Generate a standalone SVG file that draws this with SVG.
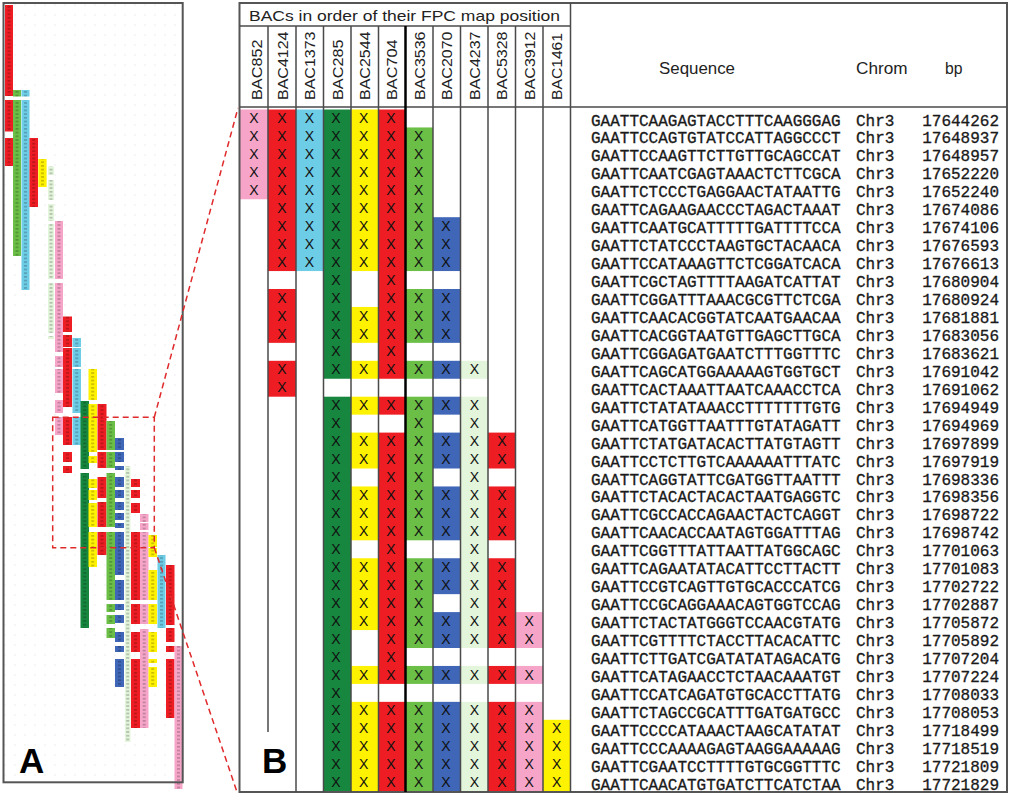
<svg xmlns="http://www.w3.org/2000/svg" width="1011" height="795" viewBox="0 0 1011 795">
<defs>
<pattern id="dots" width="10" height="10" patternUnits="userSpaceOnUse">
<rect x="4.5" y="4.5" width="1" height="1" fill="#d9d9d9"/>
</pattern>
<pattern id="tk" x="0" y="5" width="190" height="3.7" patternUnits="userSpaceOnUse">
<g fill="#000" fill-opacity="0.3">
<rect x="7.5" y="1.2" width="3" height="1.2"/><rect x="15.5" y="1.2" width="3" height="1.2"/><rect x="24" y="1.2" width="3" height="1.2"/><rect x="32.2" y="1.2" width="3" height="1.2"/><rect x="41" y="1.2" width="3" height="1.2"/><rect x="49.5" y="1.2" width="3" height="1.2"/><rect x="57.5" y="1.2" width="3" height="1.2"/><rect x="66" y="1.2" width="3" height="1.2"/><rect x="75.2" y="1.2" width="3" height="1.2"/><rect x="83.2" y="1.2" width="3" height="1.2"/><rect x="91.2" y="1.2" width="3" height="1.2"/><rect x="100.5" y="1.2" width="3" height="1.2"/><rect x="109.2" y="1.2" width="3" height="1.2"/><rect x="118" y="1.2" width="3" height="1.2"/><rect x="126.2" y="1.2" width="3" height="1.2"/><rect x="134" y="1.2" width="3" height="1.2"/><rect x="142.7" y="1.2" width="3" height="1.2"/><rect x="151.2" y="1.2" width="3" height="1.2"/><rect x="160" y="1.2" width="3" height="1.2"/><rect x="168.7" y="1.2" width="3" height="1.2"/><rect x="177" y="1.2" width="3" height="1.2"/>
</g>
</pattern>
<filter id="wh" x="0" y="0" width="1" height="1" filterUnits="objectBoundingBox"><feColorMatrix type="matrix" values="0 0 0 0 1  0 0 0 0 1  0 0 0 0 1  0 0 0 1 0"/></filter>
<mask id="mA" maskUnits="userSpaceOnUse" x="0" y="0" width="200" height="795"><use href="#panelA-cells" filter="url(#wh)"/></mask>
</defs>
<style>
.pk{fill:#F6A5C8}.rd{fill:#EE1D23}.cy{fill:#6DCCE6}.dg{fill:#17873F}.ye{fill:#FFF200}.gr{fill:#6BBF47}.bl{fill:#3F66B7}.lg{fill:#E3F5DB}
.x{font-family:'Liberation Sans',Arial,sans-serif;font-size:14px;text-anchor:middle;fill:#111}
.s{font-family:'Liberation Mono','Courier New',monospace;font-size:16px;fill:#1a1a1a;stroke:#1a1a1a;stroke-width:0.3}
.n{text-anchor:end}
.lb{font-family:'Liberation Sans',Arial,sans-serif;font-size:15px;fill:#222}
.tt{font-family:'Liberation Sans',Arial,sans-serif;font-size:15px;fill:#222}
.hd{font-family:'Liberation Sans',Arial,sans-serif;font-size:16px;fill:#222}
.gl{stroke:#4a4a4a;stroke-width:1.5;fill:none}
.big{font-family:'Liberation Sans',Arial,sans-serif;font-size:35px;font-weight:bold;fill:#000}
.dash{stroke:#E0292B;stroke-width:1.5;stroke-dasharray:6 4;fill:none}
</style>
<rect width="1011" height="795" fill="#fff"/>

<!-- Panel A -->
<g id="panelA">
<rect x="3.5" y="3" width="179.2" height="779.3" fill="url(#dots)"/>
<g id="panelA-cells">
<g class="rd"><rect x="5" y="5" width="8" height="91"/><rect x="5" y="100" width="8" height="31.5"/><rect x="5" y="138" width="8" height="28"/></g>
<g class="gr"><rect x="13" y="90" width="8" height="6.5"/><rect x="13" y="100" width="8" height="156"/></g>
<g class="cy"><rect x="21.5" y="90" width="8" height="6.5"/><rect x="21.5" y="100" width="8" height="190"/></g>
<g class="rd"><rect x="29.5" y="138" width="8.5" height="69"/></g>
<g class="ye"><rect x="38.3" y="159" width="8.3" height="28"/></g>
<g class="lg"><rect x="48" y="166.5" width="6" height="8.5"/><rect x="48" y="180" width="6" height="20"/><rect x="48" y="204" width="6" height="17"/><rect x="48" y="224" width="6" height="55"/><rect x="48" y="283" width="6" height="50"/><rect x="48" y="336" width="6" height="3"/></g>
<g class="pk"><rect x="55" y="221" width="8" height="58"/><rect x="55" y="283" width="8" height="69"/><rect x="55" y="356" width="8" height="11"/><rect x="55" y="369" width="8" height="24"/><rect x="55" y="400" width="8" height="13"/><rect x="55" y="417" width="8" height="18"/></g>
<g class="rd"><rect x="63" y="316.5" width="9" height="15.5"/><rect x="63" y="335" width="9" height="12"/><rect x="63" y="348" width="9" height="59"/><rect x="63" y="417" width="9" height="28"/><rect x="63" y="452" width="9" height="10"/><rect x="63" y="466" width="9" height="7"/></g>
<g class="cy"><rect x="72.5" y="338" width="8.5" height="9"/><rect x="72.5" y="348" width="8.5" height="19"/><rect x="72.5" y="369" width="8.5" height="44"/><rect x="72.5" y="417" width="8.5" height="28"/></g>
<g class="dg"><rect x="80.5" y="401" width="8.5" height="68"/><rect x="80.5" y="473" width="8.5" height="155"/></g>
<g class="ye"><rect x="88.5" y="369" width="8.5" height="31"/><rect x="88.5" y="404" width="8.5" height="48"/><rect x="88.5" y="456" width="8.5" height="7"/><rect x="88.5" y="479" width="8.5" height="9"/><rect x="88.5" y="490" width="8.5" height="10"/><rect x="88.5" y="503" width="8.5" height="24"/><rect x="88.5" y="532" width="8.5" height="35"/></g>
<g class="rd"><rect x="97.5" y="404" width="9" height="46"/><rect x="97.5" y="452" width="9" height="16"/><rect x="97.5" y="477" width="9" height="21"/><rect x="97.5" y="502" width="9" height="25"/><rect x="97.5" y="532" width="9" height="23"/></g>
<g class="gr"><rect x="106.5" y="421" width="8.5" height="29"/><rect x="106.5" y="452" width="8.5" height="16"/><rect x="106.5" y="473" width="8.5" height="54"/><rect x="106.5" y="532" width="8.5" height="68"/><rect x="106.5" y="604" width="8.5" height="8"/><rect x="106.5" y="615" width="8.5" height="9"/><rect x="106.5" y="628" width="8.5" height="10"/></g>
<g class="bl"><rect x="115" y="438" width="9" height="12"/><rect x="115" y="452" width="9" height="10"/><rect x="115" y="466" width="9" height="4"/><rect x="115" y="477" width="9" height="10"/><rect x="115" y="490" width="9" height="8"/><rect x="115" y="502" width="9" height="8"/><rect x="115" y="513" width="9" height="7"/><rect x="115" y="523" width="9" height="5"/><rect x="115" y="532" width="9" height="43"/><rect x="115" y="580" width="9" height="20"/><rect x="115" y="604" width="9" height="6"/><rect x="115" y="615" width="9" height="8"/><rect x="115" y="632" width="9" height="10"/><rect x="115" y="646" width="9" height="6"/><rect x="115" y="659" width="9" height="28"/></g>
<g class="lg"><rect x="125" y="466" width="5.5" height="276"/></g>
<g class="rd"><rect x="131" y="479" width="9" height="8"/><rect x="131" y="490" width="9" height="8"/><rect x="131" y="503" width="9" height="10"/><rect x="131" y="532" width="9" height="68"/><rect x="131" y="604" width="9" height="20"/><rect x="131" y="632" width="9" height="20"/><rect x="131" y="659" width="9" height="69"/></g>
<g class="pk"><rect x="140" y="514" width="8.5" height="8"/><rect x="140" y="523" width="8.5" height="7"/><rect x="140" y="532" width="8.5" height="68"/><rect x="140" y="604" width="8.5" height="20"/><rect x="140" y="629" width="8.5" height="99"/></g>
<g class="ye"><rect x="148.5" y="535" width="8.5" height="12"/><rect x="148.5" y="548" width="8.5" height="9"/><rect x="148.5" y="570" width="8.5" height="30"/><rect x="148.5" y="604" width="8.5" height="20"/><rect x="148.5" y="632" width="8.5" height="20"/><rect x="148.5" y="659" width="8.5" height="4"/><rect x="148.5" y="667" width="8.5" height="20"/></g>
<g class="cy"><rect x="157.5" y="555" width="8" height="73"/></g>
<g class="rd"><rect x="166" y="565" width="8.5" height="60"/><rect x="166" y="628" width="8.5" height="14"/><rect x="166" y="646" width="8.5" height="6"/><rect x="166" y="659" width="8.5" height="59"/></g>
<g class="pk"><rect x="174.5" y="646" width="8" height="143"/></g>
</g>
<rect x="3" y="3" width="182" height="788" fill="url(#tk)" mask="url(#mA)"/>
<rect x="3.5" y="3" width="179.2" height="779.3" fill="none" stroke="#555" stroke-width="2"/>
<text class="big" x="19" y="773">A</text>
</g>

<!-- Panel B cells -->
<g id="cells">
<g class="pk"><rect x="240" y="109.5" width="28" height="89.75"/><rect x="515.5" y="612.1" width="27.5" height="35.9"/><rect x="515.5" y="665.95" width="27.5" height="17.95"/><rect x="515.5" y="701.85" width="27.5" height="89.75"/></g>
<g class="rd"><rect x="268" y="109.5" width="28" height="161.55"/><rect x="268" y="289" width="28" height="53.85"/><rect x="268" y="360.8" width="28" height="35.9"/>
<rect x="378.5" y="109.5" width="27" height="269.25"/><rect x="378.5" y="396.7" width="27" height="17.95"/><rect x="378.5" y="432.6" width="27" height="251.3"/><rect x="378.5" y="701.85" width="27" height="89.75"/>
<rect x="488" y="432.6" width="27.5" height="35.9"/><rect x="488" y="486.45" width="27.5" height="53.85"/><rect x="488" y="558.25" width="27.5" height="89.75"/><rect x="488" y="665.95" width="27.5" height="17.95"/><rect x="488" y="701.85" width="27.5" height="89.75"/></g>
<g class="cy"><rect x="296" y="109.5" width="27.5" height="161.55"/></g>
<g class="dg"><rect x="323.5" y="109.5" width="27.5" height="269.25"/><rect x="323.5" y="396.7" width="27.5" height="394.9"/></g>
<g class="ye"><rect x="351" y="109.5" width="27.5" height="161.55"/><rect x="351" y="306.95" width="27.5" height="35.9"/><rect x="351" y="360.8" width="27.5" height="17.95"/><rect x="351" y="396.7" width="27.5" height="17.95"/><rect x="351" y="432.6" width="27.5" height="35.9"/><rect x="351" y="486.45" width="27.5" height="53.85"/><rect x="351" y="558.25" width="27.5" height="71.8"/><rect x="351" y="665.95" width="27.5" height="17.95"/><rect x="351" y="701.85" width="27.5" height="89.75"/>
<rect x="543" y="719.8" width="27.5" height="71.8"/></g>
<g class="gr"><rect x="405.5" y="127.45" width="27.5" height="143.6"/><rect x="405.5" y="289" width="27.5" height="53.85"/><rect x="405.5" y="360.8" width="27.5" height="17.95"/><rect x="405.5" y="396.7" width="27.5" height="143.6"/><rect x="405.5" y="558.25" width="27.5" height="89.75"/><rect x="405.5" y="665.95" width="27.5" height="17.95"/><rect x="405.5" y="701.85" width="27.5" height="89.75"/></g>
<g class="bl"><rect x="433" y="217.2" width="27.5" height="53.85"/><rect x="433" y="289" width="27.5" height="53.85"/><rect x="433" y="360.8" width="27.5" height="17.95"/><rect x="433" y="396.7" width="27.5" height="17.95"/><rect x="433" y="432.6" width="27.5" height="35.9"/><rect x="433" y="486.45" width="27.5" height="53.85"/><rect x="433" y="558.25" width="27.5" height="35.9"/><rect x="433" y="612.1" width="27.5" height="35.9"/><rect x="433" y="665.95" width="27.5" height="17.95"/><rect x="433" y="701.85" width="27.5" height="89.75"/></g>
<g class="lg"><rect x="460.5" y="360.8" width="27.5" height="17.95"/><rect x="460.5" y="396.7" width="27.5" height="251.3"/><rect x="460.5" y="665.95" width="27.5" height="17.95"/><rect x="460.5" y="701.85" width="27.5" height="89.75"/></g>
</g>

<!-- grid lines -->
<g id="grid" class="gl">
<rect x="239.5" y="3" width="767.5" height="789" stroke-width="2" stroke="#555"/>
<line x1="239.5" y1="26" x2="570.5" y2="26"/>
<line x1="239.5" y1="107" x2="1007" y2="107"/>
<line x1="268" y1="26" x2="268" y2="732"/>
<line x1="296" y1="26" x2="296" y2="792"/>
<line x1="323.5" y1="26" x2="323.5" y2="792"/>
<line x1="351" y1="26" x2="351" y2="792"/>
<line x1="378.5" y1="26" x2="378.5" y2="792"/>
<line x1="405.5" y1="26" x2="405.5" y2="792" stroke="#000" stroke-width="2.5"/>
<line x1="433" y1="26" x2="433" y2="792"/>
<line x1="460.5" y1="26" x2="460.5" y2="792"/>
<line x1="488" y1="26" x2="488" y2="792"/>
<line x1="515.5" y1="26" x2="515.5" y2="792"/>
<line x1="543" y1="26" x2="543" y2="792"/>
<line x1="570.5" y1="3" x2="570.5" y2="792"/>
</g>

<!-- header -->
<g id="header">
<text class="tt" x="249" y="21" textLength="311" lengthAdjust="spacingAndGlyphs">BACs in order of their FPC map position</text>
<text class="lb" transform="translate(262,100) rotate(-90)" textLength="60.5" lengthAdjust="spacingAndGlyphs">BAC852</text>
<text class="lb" transform="translate(287.8,100) rotate(-90)" textLength="68.5" lengthAdjust="spacingAndGlyphs">BAC4124</text>
<text class="lb" transform="translate(315.2,100) rotate(-90)" textLength="68.5" lengthAdjust="spacingAndGlyphs">BAC1373</text>
<text class="lb" transform="translate(342.5,100) rotate(-90)" textLength="60.5" lengthAdjust="spacingAndGlyphs">BAC285</text>
<text class="lb" transform="translate(370.2,100) rotate(-90)" textLength="68.5" lengthAdjust="spacingAndGlyphs">BAC2544</text>
<text class="lb" transform="translate(396.8,100) rotate(-90)" textLength="60.5" lengthAdjust="spacingAndGlyphs">BAC704</text>
<text class="lb" transform="translate(424.8,100) rotate(-90)" textLength="68.5" lengthAdjust="spacingAndGlyphs">BAC3536</text>
<text class="lb" transform="translate(452.3,100) rotate(-90)" textLength="68.5" lengthAdjust="spacingAndGlyphs">BAC2070</text>
<text class="lb" transform="translate(479.8,100) rotate(-90)" textLength="68.5" lengthAdjust="spacingAndGlyphs">BAC4237</text>
<text class="lb" transform="translate(507.3,100) rotate(-90)" textLength="68.5" lengthAdjust="spacingAndGlyphs">BAC5328</text>
<text class="lb" transform="translate(534.8,100) rotate(-90)" textLength="68.5" lengthAdjust="spacingAndGlyphs">BAC3912</text>
<text class="lb" transform="translate(562.3,100) rotate(-90)" textLength="67" lengthAdjust="spacingAndGlyphs">BAC1461</text>
<text class="hd" x="659" y="74" textLength="76" lengthAdjust="spacingAndGlyphs">Sequence</text>
<text class="hd" x="856" y="74" textLength="51.5" lengthAdjust="spacingAndGlyphs">Chrom</text>
<text class="hd" x="945" y="74" textLength="17.5" lengthAdjust="spacingAndGlyphs">bp</text>
</g>

<!-- rows -->
<g id="row1" transform="translate(0 123.1)"><text class="x" x="254">X</text><text class="x" x="281.8">X</text><text class="x" x="309.3">X</text><text class="x" x="336">X</text><text class="x" x="363.6">X</text><text class="x" x="391">X</text><text class="s" x="591" y="2.4">GAATTCAAGAGTACCTTTCAAGGGAG</text><text class="s" x="856" y="2.4">Chr3</text><text class="s n" x="999" y="2.4">17644262</text></g>
<g id="row2" transform="translate(0 141.05)"><text class="x" x="254">X</text><text class="x" x="281.8">X</text><text class="x" x="309.3">X</text><text class="x" x="336">X</text><text class="x" x="363.6">X</text><text class="x" x="391">X</text><text class="x" x="418.6">X</text><text class="s" x="591" y="2.4">GAATTCCAGTGTATCCATTAGGCCCT</text><text class="s" x="856" y="2.4">Chr3</text><text class="s n" x="999" y="2.4">17648937</text></g>
<g id="row3" transform="translate(0 159)"><text class="x" x="254">X</text><text class="x" x="281.8">X</text><text class="x" x="309.3">X</text><text class="x" x="336">X</text><text class="x" x="363.6">X</text><text class="x" x="391">X</text><text class="x" x="418.6">X</text><text class="s" x="591" y="2.4">GAATTCCAAGTTCTTGTTGCAGCCAT</text><text class="s" x="856" y="2.4">Chr3</text><text class="s n" x="999" y="2.4">17648957</text></g>
<g id="row4" transform="translate(0 176.95)"><text class="x" x="254">X</text><text class="x" x="281.8">X</text><text class="x" x="309.3">X</text><text class="x" x="336">X</text><text class="x" x="363.6">X</text><text class="x" x="391">X</text><text class="x" x="418.6">X</text><text class="s" x="591" y="2.4">GAATTCAATCGAGTAAACTCTTCGCA</text><text class="s" x="856" y="2.4">Chr3</text><text class="s n" x="999" y="2.4">17652220</text></g>
<g id="row5" transform="translate(0 194.9)"><text class="x" x="254">X</text><text class="x" x="281.8">X</text><text class="x" x="309.3">X</text><text class="x" x="336">X</text><text class="x" x="363.6">X</text><text class="x" x="391">X</text><text class="x" x="418.6">X</text><text class="s" x="591" y="2.4">GAATTCTCCCTGAGGAACTATAATTG</text><text class="s" x="856" y="2.4">Chr3</text><text class="s n" x="999" y="2.4">17652240</text></g>
<g id="row6" transform="translate(0 212.85)"><text class="x" x="281.8">X</text><text class="x" x="309.3">X</text><text class="x" x="336">X</text><text class="x" x="363.6">X</text><text class="x" x="391">X</text><text class="x" x="418.6">X</text><text class="s" x="591" y="2.4">GAATTCAGAAGAACCCTAGACTAAAT</text><text class="s" x="856" y="2.4">Chr3</text><text class="s n" x="999" y="2.4">17674086</text></g>
<g id="row7" transform="translate(0 230.8)"><text class="x" x="281.8">X</text><text class="x" x="309.3">X</text><text class="x" x="336">X</text><text class="x" x="363.6">X</text><text class="x" x="391">X</text><text class="x" x="418.6">X</text><text class="x" x="446">X</text><text class="s" x="591" y="2.4">GAATTCAATGCATTTTTGATTTTCCA</text><text class="s" x="856" y="2.4">Chr3</text><text class="s n" x="999" y="2.4">17674106</text></g>
<g id="row8" transform="translate(0 248.75)"><text class="x" x="281.8">X</text><text class="x" x="309.3">X</text><text class="x" x="336">X</text><text class="x" x="363.6">X</text><text class="x" x="391">X</text><text class="x" x="418.6">X</text><text class="x" x="446">X</text><text class="s" x="591" y="2.4">GAATTCTATCCCTAAGTGCTACAACA</text><text class="s" x="856" y="2.4">Chr3</text><text class="s n" x="999" y="2.4">17676593</text></g>
<g id="row9" transform="translate(0 266.7)"><text class="x" x="281.8">X</text><text class="x" x="309.3">X</text><text class="x" x="336">X</text><text class="x" x="363.6">X</text><text class="x" x="391">X</text><text class="x" x="418.6">X</text><text class="x" x="446">X</text><text class="s" x="591" y="2.4">GAATTCCATAAAGTTCTCGGATCACA</text><text class="s" x="856" y="2.4">Chr3</text><text class="s n" x="999" y="2.4">17676613</text></g>
<g id="row10" transform="translate(0 284.65)"><text class="x" x="336">X</text><text class="x" x="391">X</text><text class="s" x="591" y="2.4">GAATTCGCTAGTTTTAAGATCATTAT</text><text class="s" x="856" y="2.4">Chr3</text><text class="s n" x="999" y="2.4">17680904</text></g>
<g id="row11" transform="translate(0 302.6)"><text class="x" x="281.8">X</text><text class="x" x="336">X</text><text class="x" x="391">X</text><text class="x" x="418.6">X</text><text class="x" x="446">X</text><text class="s" x="591" y="2.4">GAATTCGGATTTAAACGCGTTCTCGA</text><text class="s" x="856" y="2.4">Chr3</text><text class="s n" x="999" y="2.4">17680924</text></g>
<g id="row12" transform="translate(0 320.55)"><text class="x" x="281.8">X</text><text class="x" x="336">X</text><text class="x" x="363.6">X</text><text class="x" x="391">X</text><text class="x" x="418.6">X</text><text class="x" x="446">X</text><text class="s" x="591" y="2.4">GAATTCAACACGGTATCAATGAACAA</text><text class="s" x="856" y="2.4">Chr3</text><text class="s n" x="999" y="2.4">17681881</text></g>
<g id="row13" transform="translate(0 338.5)"><text class="x" x="281.8">X</text><text class="x" x="336">X</text><text class="x" x="363.6">X</text><text class="x" x="391">X</text><text class="x" x="418.6">X</text><text class="x" x="446">X</text><text class="s" x="591" y="2.4">GAATTCACGGTAATGTTGAGCTTGCA</text><text class="s" x="856" y="2.4">Chr3</text><text class="s n" x="999" y="2.4">17683056</text></g>
<g id="row14" transform="translate(0 356.45)"><text class="x" x="336">X</text><text class="x" x="391">X</text><text class="s" x="591" y="2.4">GAATTCGGAGATGAATCTTTGGTTTC</text><text class="s" x="856" y="2.4">Chr3</text><text class="s n" x="999" y="2.4">17683621</text></g>
<g id="row15" transform="translate(0 374.4)"><text class="x" x="281.8">X</text><text class="x" x="336">X</text><text class="x" x="363.6">X</text><text class="x" x="391">X</text><text class="x" x="418.6">X</text><text class="x" x="446">X</text><text class="x" x="474.5">X</text><text class="s" x="591" y="2.4">GAATTCAGCATGGAAAAAGTGGTGCT</text><text class="s" x="856" y="2.4">Chr3</text><text class="s n" x="999" y="2.4">17691042</text></g>
<g id="row16" transform="translate(0 392.35)"><text class="x" x="281.8">X</text><text class="s" x="591" y="2.4">GAATTCACTAAATTAATCAAACCTCA</text><text class="s" x="856" y="2.4">Chr3</text><text class="s n" x="999" y="2.4">17691062</text></g>
<g id="row17" transform="translate(0 410.3)"><text class="x" x="336">X</text><text class="x" x="363.6">X</text><text class="x" x="391">X</text><text class="x" x="418.6">X</text><text class="x" x="446">X</text><text class="x" x="474.5">X</text><text class="s" x="591" y="2.4">GAATTCTATATAAACCTTTTTTTGTG</text><text class="s" x="856" y="2.4">Chr3</text><text class="s n" x="999" y="2.4">17694949</text></g>
<g id="row18" transform="translate(0 428.25)"><text class="x" x="336">X</text><text class="x" x="418.6">X</text><text class="x" x="474.5">X</text><text class="s" x="591" y="2.4">GAATTCATGGTTAATTTGTATAGATT</text><text class="s" x="856" y="2.4">Chr3</text><text class="s n" x="999" y="2.4">17694969</text></g>
<g id="row19" transform="translate(0 446.2)"><text class="x" x="336">X</text><text class="x" x="363.6">X</text><text class="x" x="391">X</text><text class="x" x="418.6">X</text><text class="x" x="446">X</text><text class="x" x="474.5">X</text><text class="x" x="502">X</text><text class="s" x="591" y="2.4">GAATTCTATGATACACTTATGTAGTT</text><text class="s" x="856" y="2.4">Chr3</text><text class="s n" x="999" y="2.4">17697899</text></g>
<g id="row20" transform="translate(0 464.15)"><text class="x" x="336">X</text><text class="x" x="363.6">X</text><text class="x" x="391">X</text><text class="x" x="418.6">X</text><text class="x" x="446">X</text><text class="x" x="474.5">X</text><text class="x" x="502">X</text><text class="s" x="591" y="2.4">GAATTCCTCTTGTCAAAAAATTTATC</text><text class="s" x="856" y="2.4">Chr3</text><text class="s n" x="999" y="2.4">17697919</text></g>
<g id="row21" transform="translate(0 482.1)"><text class="x" x="336">X</text><text class="x" x="391">X</text><text class="x" x="418.6">X</text><text class="x" x="474.5">X</text><text class="s" x="591" y="2.4">GAATTCAGGTATTCGATGGTTAATTT</text><text class="s" x="856" y="2.4">Chr3</text><text class="s n" x="999" y="2.4">17698336</text></g>
<g id="row22" transform="translate(0 500.05)"><text class="x" x="336">X</text><text class="x" x="363.6">X</text><text class="x" x="391">X</text><text class="x" x="418.6">X</text><text class="x" x="446">X</text><text class="x" x="474.5">X</text><text class="x" x="502">X</text><text class="s" x="591" y="2.4">GAATTCTACACTACACTAATGAGGTC</text><text class="s" x="856" y="2.4">Chr3</text><text class="s n" x="999" y="2.4">17698356</text></g>
<g id="row23" transform="translate(0 518)"><text class="x" x="336">X</text><text class="x" x="363.6">X</text><text class="x" x="391">X</text><text class="x" x="418.6">X</text><text class="x" x="446">X</text><text class="x" x="474.5">X</text><text class="x" x="502">X</text><text class="s" x="591" y="2.4">GAATTCGCCACCAGAACTACTCAGGT</text><text class="s" x="856" y="2.4">Chr3</text><text class="s n" x="999" y="2.4">17698722</text></g>
<g id="row24" transform="translate(0 535.95)"><text class="x" x="336">X</text><text class="x" x="363.6">X</text><text class="x" x="391">X</text><text class="x" x="418.6">X</text><text class="x" x="446">X</text><text class="x" x="474.5">X</text><text class="x" x="502">X</text><text class="s" x="591" y="2.4">GAATTCAACACCAATAGTGGATTTAG</text><text class="s" x="856" y="2.4">Chr3</text><text class="s n" x="999" y="2.4">17698742</text></g>
<g id="row25" transform="translate(0 553.9)"><text class="x" x="336">X</text><text class="x" x="391">X</text><text class="x" x="474.5">X</text><text class="s" x="591" y="2.4">GAATTCGGTTTATTAATTATGGCAGC</text><text class="s" x="856" y="2.4">Chr3</text><text class="s n" x="999" y="2.4">17701063</text></g>
<g id="row26" transform="translate(0 571.85)"><text class="x" x="336">X</text><text class="x" x="363.6">X</text><text class="x" x="391">X</text><text class="x" x="418.6">X</text><text class="x" x="446">X</text><text class="x" x="474.5">X</text><text class="x" x="502">X</text><text class="s" x="591" y="2.4">GAATTCAGAATATACATTCCTTACTT</text><text class="s" x="856" y="2.4">Chr3</text><text class="s n" x="999" y="2.4">17701083</text></g>
<g id="row27" transform="translate(0 589.8)"><text class="x" x="336">X</text><text class="x" x="363.6">X</text><text class="x" x="391">X</text><text class="x" x="418.6">X</text><text class="x" x="446">X</text><text class="x" x="474.5">X</text><text class="x" x="502">X</text><text class="s" x="591" y="2.4">GAATTCCGTCAGTTGTGCACCCATCG</text><text class="s" x="856" y="2.4">Chr3</text><text class="s n" x="999" y="2.4">17702722</text></g>
<g id="row28" transform="translate(0 607.75)"><text class="x" x="336">X</text><text class="x" x="363.6">X</text><text class="x" x="391">X</text><text class="x" x="418.6">X</text><text class="x" x="474.5">X</text><text class="x" x="502">X</text><text class="s" x="591" y="2.4">GAATTCCGCAGGAAACAGTGGTCCAG</text><text class="s" x="856" y="2.4">Chr3</text><text class="s n" x="999" y="2.4">17702887</text></g>
<g id="row29" transform="translate(0 625.7)"><text class="x" x="336">X</text><text class="x" x="363.6">X</text><text class="x" x="391">X</text><text class="x" x="418.6">X</text><text class="x" x="446">X</text><text class="x" x="474.5">X</text><text class="x" x="502">X</text><text class="x" x="529.2">X</text><text class="s" x="591" y="2.4">GAATTCTACTATGGGTCCAACGTATG</text><text class="s" x="856" y="2.4">Chr3</text><text class="s n" x="999" y="2.4">17705872</text></g>
<g id="row30" transform="translate(0 643.65)"><text class="x" x="336">X</text><text class="x" x="391">X</text><text class="x" x="418.6">X</text><text class="x" x="446">X</text><text class="x" x="474.5">X</text><text class="x" x="502">X</text><text class="x" x="529.2">X</text><text class="s" x="591" y="2.4">GAATTCGTTTTCTACCTTACACATTC</text><text class="s" x="856" y="2.4">Chr3</text><text class="s n" x="999" y="2.4">17705892</text></g>
<g id="row31" transform="translate(0 661.6)"><text class="x" x="336">X</text><text class="x" x="391">X</text><text class="s" x="591" y="2.4">GAATTCTTGATCGATATATAGACATG</text><text class="s" x="856" y="2.4">Chr3</text><text class="s n" x="999" y="2.4">17707204</text></g>
<g id="row32" transform="translate(0 679.55)"><text class="x" x="336">X</text><text class="x" x="363.6">X</text><text class="x" x="391">X</text><text class="x" x="418.6">X</text><text class="x" x="446">X</text><text class="x" x="474.5">X</text><text class="x" x="502">X</text><text class="x" x="529.2">X</text><text class="s" x="591" y="2.4">GAATTCATAGAACCTCTAACAAATGT</text><text class="s" x="856" y="2.4">Chr3</text><text class="s n" x="999" y="2.4">17707224</text></g>
<g id="row33" transform="translate(0 697.5)"><text class="x" x="336">X</text><text class="s" x="591" y="2.4">GAATTCCATCAGATGTGCACCTTATG</text><text class="s" x="856" y="2.4">Chr3</text><text class="s n" x="999" y="2.4">17708033</text></g>
<g id="row34" transform="translate(0 715.45)"><text class="x" x="336">X</text><text class="x" x="363.6">X</text><text class="x" x="391">X</text><text class="x" x="418.6">X</text><text class="x" x="446">X</text><text class="x" x="474.5">X</text><text class="x" x="502">X</text><text class="x" x="529.2">X</text><text class="s" x="591" y="2.4">GAATTCTAGCCGCATTTGATGATGCC</text><text class="s" x="856" y="2.4">Chr3</text><text class="s n" x="999" y="2.4">17708053</text></g>
<g id="row35" transform="translate(0 733.4)"><text class="x" x="336">X</text><text class="x" x="363.6">X</text><text class="x" x="391">X</text><text class="x" x="418.6">X</text><text class="x" x="446">X</text><text class="x" x="474.5">X</text><text class="x" x="502">X</text><text class="x" x="529.2">X</text><text class="x" x="556.7">X</text><text class="s" x="591" y="2.4">GAATTCCCCATAAACTAAGCATATAT</text><text class="s" x="856" y="2.4">Chr3</text><text class="s n" x="999" y="2.4">17718499</text></g>
<g id="row36" transform="translate(0 751.35)"><text class="x" x="336">X</text><text class="x" x="363.6">X</text><text class="x" x="391">X</text><text class="x" x="418.6">X</text><text class="x" x="446">X</text><text class="x" x="474.5">X</text><text class="x" x="502">X</text><text class="x" x="529.2">X</text><text class="x" x="556.7">X</text><text class="s" x="591" y="2.4">GAATTCCCAAAAGAGTAAGGAAAAAG</text><text class="s" x="856" y="2.4">Chr3</text><text class="s n" x="999" y="2.4">17718519</text></g>
<g id="row37" transform="translate(0 769.3)"><text class="x" x="336">X</text><text class="x" x="363.6">X</text><text class="x" x="391">X</text><text class="x" x="418.6">X</text><text class="x" x="446">X</text><text class="x" x="474.5">X</text><text class="x" x="502">X</text><text class="x" x="529.2">X</text><text class="x" x="556.7">X</text><text class="s" x="591" y="2.4">GAATTCGAATCCTTTTGTGCGGTTTC</text><text class="s" x="856" y="2.4">Chr3</text><text class="s n" x="999" y="2.4">17721809</text></g>
<g id="row38" transform="translate(0 787.25)"><text class="x" x="336">X</text><text class="x" x="363.6">X</text><text class="x" x="391">X</text><text class="x" x="418.6">X</text><text class="x" x="446">X</text><text class="x" x="474.5">X</text><text class="x" x="502">X</text><text class="x" x="529.2">X</text><text class="x" x="556.7">X</text><text class="s" x="591" y="2.4">GAATTCAACATGTGATCTTCATCTAA</text><text class="s" x="856" y="2.4">Chr3</text><text class="s n" x="999" y="2.4">17721829</text></g>

<text id="labelB" class="big" x="262" y="773">B</text>

<!-- zoom connectors -->
<g id="connectors">
<rect class="dash" x="52.7" y="417.3" width="101.6" height="130.4"/>
<line class="dash" x1="154.3" y1="417.3" x2="238" y2="108"/>
<line class="dash" x1="154.3" y1="547.7" x2="237" y2="792"/>
</g>
</svg>
